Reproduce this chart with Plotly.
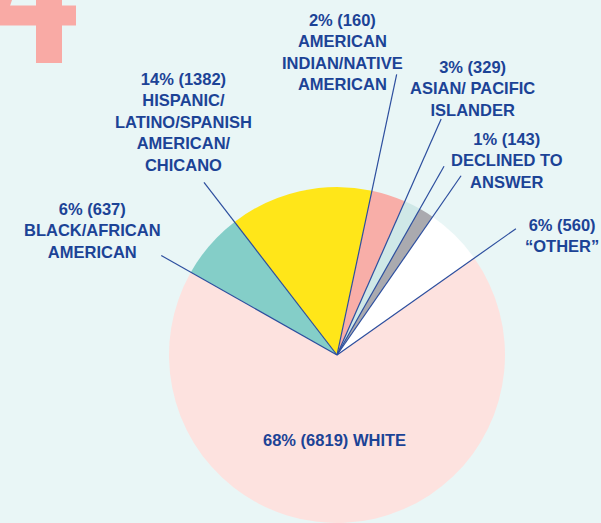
import math
import plotly.graph_objects as go

# ---- data (slice order as drawn clockwise from ~12 o'clock) ----
slice_names = ["ASIAN/ PACIFIC<br>ISLANDER",
               "AMERICAN<br>INDIAN/NATIVE<br>AMERICAN",
               "DECLINED TO<br>ANSWER",
               "“OTHER”",
               "WHITE",
               "BLACK/AFRICAN<br>AMERICAN",
               "HISPANIC/<br>LATINO/SPANISH<br>AMERICAN/<br>CHICANO"]
slice_counts = [329, 160, 143, 560, 6819, 637, 1382]
slice_colors = ["#F8AEA8", "#CFE8E7", "#AAAAAF", "#FFFFFF", "#FDE2DF", "#84CEC8", "#FFE619"]

# label placement (pixel centres)
label_pos = {
    0: (472, 88),
    1: (342, 52),
    2: (507, 161),
    3: (562, 235),
    4: (335, 440),
    5: (92, 230),
    6: (183, 122),
}
same_line = [False, False, False, False, True, False, False]
# leader lengths (px) along the slice boundaries
leader_len = [258, 287, 217, 218, 219, 202, 218]
leader_boundary = [1, 0, 2, 3, 4, 5, 6]

W, H = 601, 523
ROT = 12.0
dom_x = [168 / W, 506 / W]
dom_y = [0.0, 336 / H]
TEXT = "#1C4396"
LINE = "#2C4E9E"

fig = go.Figure()
fig.add_trace(go.Pie(
    labels=[n.replace("<br>", " ") for n in slice_names],
    values=slice_counts,
    marker=dict(colors=slice_colors, line=dict(width=0)),
    sort=False, direction="clockwise", rotation=ROT,
    textinfo="none", hoverinfo="label+value+percent",
    showlegend=False,
    domain=dict(x=dom_x, y=dom_y),
))

total = sum(slice_counts)
starts = []
acc = 0
for v in slice_counts:
    starts.append(ROT + acc / total * 360.0)
    acc += v

cx = (dom_x[0] + dom_x[1]) / 2 * W
cy = H - (dom_y[0] + dom_y[1]) / 2 * H

shapes = []
for i in range(len(slice_counts)):
    ang = math.radians(starts[leader_boundary[i]])
    L = leader_len[i]
    ex = cx + L * math.sin(ang)
    ey = cy - L * math.cos(ang)
    shapes.append(dict(type="line", xref="paper", yref="paper",
                       x0=cx / W, y0=1 - cy / H, x1=ex / W, y1=1 - ey / H,
                       line=dict(color=LINE, width=1.2), layer="above"))

# decorative pink "4" fragment at the top-left corner
deco = "#F9AAA5"
for (x0, y0, x1, y1) in [(0, 5.5, 76, 25.5), (36, 0, 62, 63)]:
    shapes.append(dict(type="rect", xref="paper", yref="paper",
                       x0=x0 / W, x1=x1 / W, y0=1 - y1 / H, y1=1 - y0 / H,
                       fillcolor=deco, line=dict(width=0), layer="below"))
shapes.append(dict(type="path", xref="paper", yref="paper",
                   path=f"M 0 {1} L {12/W} 1 L {10/W} {1-6/H} L 0 {1-6/H} Z",
                   fillcolor=deco, line=dict(width=0), layer="below"))

annotations = []
for i, (name, cnt) in enumerate(zip(slice_names, slice_counts)):
    pct = round(cnt / total * 100)
    sep = " " if same_line[i] else "<br>"
    txt = f"{pct}% ({cnt}){sep}{name}"
    x, y = label_pos[i]
    annotations.append(dict(text=txt, x=x / W, y=1 - y / H, xref="paper", yref="paper",
                            xanchor="center", yanchor="middle", showarrow=False,
                            align="center",
                            font=dict(family="Liberation Sans, Arial, sans-serif",
                                      size=16.5, color=TEXT, weight="bold")))

fig.update_layout(
    width=W, height=H,
    margin=dict(l=0, r=0, t=0, b=0, pad=0),
    paper_bgcolor="#E9F6F6", plot_bgcolor="#E9F6F6",
    shapes=shapes, annotations=annotations,
)
fig.write_html("out.html",
               config={"displayModeBar": False},
               post_script="document.body.style.margin='0';document.body.style.padding='0';"
                           "document.body.style.background='#E9F6F6';")
